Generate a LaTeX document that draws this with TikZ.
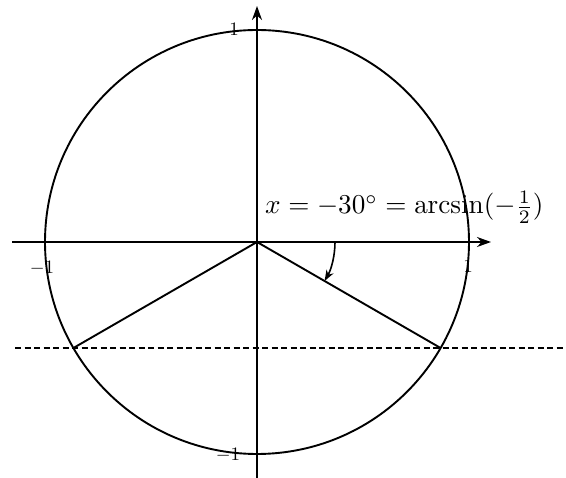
\documentclass[tikz,border=0pt]{standalone}
\usepackage{graphicx}
\usetikzlibrary{arrows.meta}
\begin{document}
\begin{tikzpicture}[x=1pt,y=-1pt,
  ln/.style={line width=1.9pt,black},
  ax/.style={line width=1.9pt,-{Stealth[length=14pt,width=10pt]}},
  lbl/.style={inner sep=0pt}]
\useasboundingbox (0,0) rectangle (566,478);
\coordinate (O) at (257,242);
\coordinate (xl) at (12,242);
\coordinate (xr) at (491,242);
\coordinate (yb) at (257,478);
\coordinate (yt) at (257,6);
\coordinate (dl) at (15,348);
\coordinate (dr) at (566,348);
\draw[ln] (O) circle[radius=212];
\draw[ax] (xl) -- (xr);
\draw[ax] (yb) -- (yt);
\draw[ln,dash pattern=on 6pt off 3.5pt] (dl) -- (dr);
\coordinate (A) at (440.6,348);
\coordinate (B) at (73.4,348);
\draw[ln] (O) -- (A);
\draw[ln] (O) -- (B);
\draw[line width=1.6pt,-{Stealth[length=11pt,width=8pt]}] (335,242) arc[start angle=0,end angle=30,radius=78];
\node[anchor=base west,inner sep=0pt] (eq) at (265,214) {\scalebox{2.72}{$x=-30^\circ=\arcsin(-\frac{1}{2})$}};
\node[lbl] (t1) at (234,29) {\scalebox{1.9}{$1$}};
\node[lbl] (r1) at (468,266) {\scalebox{1.9}{$1$}};
\node[lbl] (l1) at (42,268) {\scalebox{1.9}{$-1$}};
\node[lbl] (b1) at (228,455) {\scalebox{1.9}{$-1$}};
\end{tikzpicture}
\end{document}
